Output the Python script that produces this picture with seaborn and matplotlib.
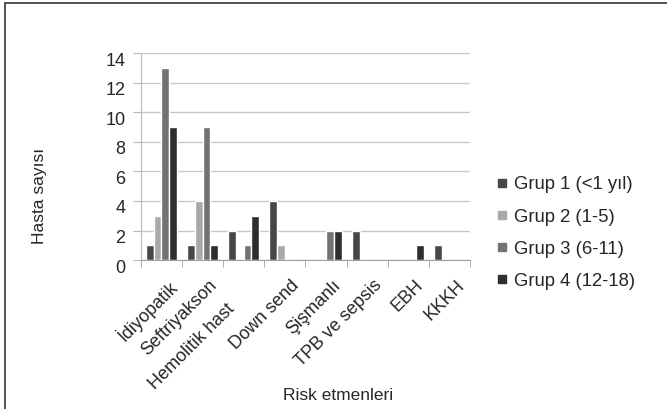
import pandas as pd
import numpy as np
import matplotlib
matplotlib.use("Agg")
import matplotlib.pyplot as plt
import matplotlib.transforms as mtransforms
import seaborn as sns
from matplotlib.patches import Rectangle
from matplotlib.lines import Line2D

categories = ["İdiyopatik", "Seftriyakson", "Hemolitik hast", "Down send",
              "Şişmanlı", "TPB ve sepsis", "EBH", "KKKH"]
groups = ["Grup 1 (<1 yıl)", "Grup 2 (1-5)", "Grup 3 (6-11)", "Grup 4 (12-18)"]
grup1 = [1, 1, 2, 4, 0, 2, 0, 1]
grup2 = [3, 4, 0, 1, 0, 0, 0, 0]
grup3 = [13, 9, 1, 0, 2, 0, 0, 0]
grup4 = [9, 1, 3, 0, 2, 0, 1, 0]
colors = ["#474747", "#a9a9a9", "#727272", "#2e2e2e"]

df = pd.DataFrame({
    "risk": categories * 4,
    "grup": np.repeat(groups, len(categories)),
    "n": grup1 + grup2 + grup3 + grup4,
})

sns.set_style("white")
plt.rcParams["font.family"] = ["Liberation Sans", "DejaVu Sans"]

fig = plt.figure(figsize=(6.67, 4.09), dpi=100)
ax = fig.add_axes([0.211, 0.364, 0.494, 0.506])

sns.barplot(data=df, x="risk", y="n", hue="grup", order=categories,
            hue_order=groups, palette=colors, width=0.75, saturation=1,
            ax=ax, legend=False)

ax.set_ylim(0, 14)
ax.set_xlim(-0.5, len(categories) - 0.5)
ax.set_yticks(range(0, 15, 2))
ax.yaxis.grid(True, color="#c8c8c8", linewidth=1)
ax.set_axisbelow(True)
for s in ["top", "right"]:
    ax.spines[s].set_visible(False)
ax.spines["left"].set_color("#b8b8b8")
ax.spines["bottom"].set_color("#a0a0a0")
ax.tick_params(axis="y", length=6, color="#b8b8b8", labelsize=13, pad=5, left=True)
ax.set_xticks(np.arange(len(categories) + 1) - 0.5, minor=True)
ax.tick_params(axis="x", which="minor", length=5, color="#a0a0a0", bottom=True, direction="out")
ax.tick_params(axis="x", which="major", length=0, labelsize=13, pad=4)
ax.set_xticks(range(len(categories)))
ax.set_xticklabels(categories, rotation=45, ha="right", rotation_mode="anchor")

# Excel-like offsets for tick labels (pixels at 100 dpi);
# the long third label is staggered down-left in the original
for lab in ax.get_xticklabels():
    dx, dy = 6, -11
    if lab.get_text() == "Hemolitik hast":
        dx, dy = dx - 24, dy - 24
    off = mtransforms.ScaledTranslation(dx / 100, dy / 100, fig.dpi_scale_trans)
    lab.set_transform(lab.get_transform() + off)
yoff = mtransforms.ScaledTranslation(0, -6 / 100, fig.dpi_scale_trans)
for lab in ax.get_yticklabels():
    lab.set_transform(lab.get_transform() + yoff)

ax.set_xlabel("Risk etmenleri", fontsize=12.5)
ax.xaxis.set_label_coords(0.60, -0.655)
ax.xaxis.label.set_va("center")
ax.set_ylabel("Hasta sayısı", fontsize=12.5)
ax.yaxis.set_label_coords(-0.307, 0.309)
ax.yaxis.label.set_va("center")

handles = [Line2D([], [], marker="s", linestyle="none", markersize=6,
                  color=c) for c in colors]
fig.legend(handles, groups, loc="center left", bbox_to_anchor=(0.727, 0.43),
           frameon=False, fontsize=13.3, handletextpad=0.15, labelspacing=0.82,
           borderaxespad=0, handlelength=1.0)

fig.patches.append(Rectangle((5 / 667, -0.1), 1.1, 1 - 3 / 409 + 0.1,
                             transform=fig.transFigure, fill=False,
                             edgecolor="#333333", linewidth=1.2))

fig.savefig("out.png", dpi=100)
